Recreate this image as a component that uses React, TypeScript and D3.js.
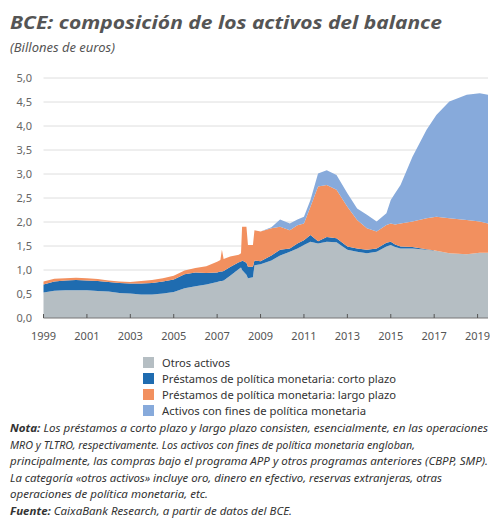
import React, { useMemo } from "react";
import * as d3 from "d3";

const WIDTH = 490;
const HEIGHT = 527;
const LEFT = 43.5;
const RIGHT = 488;
const TOP = 78;
const BOTTOM = 318;

// time position (decimal years, as placed on the chart's axis)
const dates = [
  1999.0, 1999.5, 2000.0, 2000.5, 2001.0, 2001.5, 2002.0, 2002.5, 2003.0, 2003.5,
  2004.0, 2004.5, 2005.0, 2005.5, 2006.0, 2006.5, 2007.0, 2007.15, 2007.22, 2007.3,
  2007.6, 2008.0, 2008.1, 2008.15, 2008.35, 2008.42, 2008.65, 2008.72, 2009.0, 2009.5,
  2009.9, 2010.35, 2010.7, 2011.0, 2011.3, 2011.65, 2012.05, 2012.5, 2013.0, 2013.45,
  2013.9, 2014.35, 2014.8, 2015.0, 2015.2, 2015.45, 2016.0, 2016.65, 2017.1, 2017.7,
  2018.5, 2019.1, 2019.48,
];

// billones de euros
const otrosActivos = [
  0.53, 0.57, 0.58, 0.58, 0.58, 0.56, 0.55, 0.52, 0.51, 0.49,
  0.49, 0.51, 0.54, 0.62, 0.66, 0.70, 0.75, 0.77, 0.77, 0.78,
  0.88, 1.02, 1.05, 1.0, 0.9, 0.83, 0.85, 1.1, 1.12, 1.2,
  1.3, 1.38, 1.45, 1.52, 1.59, 1.55, 1.59, 1.58, 1.42, 1.38,
  1.35, 1.38, 1.49, 1.52, 1.48, 1.45, 1.45, 1.42, 1.4, 1.35,
  1.33, 1.36, 1.36,
];
const cortoPlazo = [
  0.17, 0.19, 0.2, 0.21, 0.2, 0.21, 0.2, 0.21, 0.21, 0.23,
  0.24, 0.25, 0.26, 0.29, 0.29, 0.24, 0.2, 0.2, 0.2, 0.2,
  0.18, 0.14, 0.12, 0.2, 0.25, 0.24, 0.22, 0.1, 0.06, 0.1,
  0.12, 0.07, 0.1, 0.1, 0.14, 0.05, 0.1, 0.08, 0.07, 0.07,
  0.07, 0.07, 0.08, 0.07, 0.05, 0.04, 0.03, 0.01, 0.0, 0.0,
  0.0, 0.0, 0.0,
];
const largoPlazo = [
  0.06, 0.06, 0.05, 0.05, 0.05, 0.04, 0.03, 0.03, 0.03, 0.05,
  0.06, 0.07, 0.08, 0.08, 0.09, 0.14, 0.22, 0.24, 0.45, 0.25,
  0.22, 0.16, 0.18, 0.7, 0.75, 0.45, 0.45, 0.63, 0.62, 0.57,
  0.48, 0.38, 0.38, 0.35, 0.59, 1.14, 1.08, 1.01, 0.83, 0.59,
  0.45, 0.35, 0.37, 0.38, 0.42, 0.48, 0.53, 0.65, 0.71, 0.73,
  0.71, 0.65, 0.61,
];
const finesPolitica = [
  0, 0, 0, 0, 0, 0, 0, 0, 0, 0,
  0, 0, 0, 0, 0, 0, 0, 0, 0, 0,
  0, 0, 0, 0, 0, 0, 0, 0, 0, 0.02,
  0.15, 0.14, 0.12, 0.14, 0.14, 0.27, 0.31, 0.31, 0.28, 0.24,
  0.28, 0.21, 0.24, 0.49, 0.65, 0.8, 1.35, 1.84, 2.12, 2.43,
  2.61, 2.67, 2.68,
];

const seriesKeys = ["otros", "corto", "largo", "fines"];
const seriesLabels = [
  "Otros activos",
  "Préstamos de política monetaria: corto plazo",
  "Préstamos de política monetaria: largo plazo",
  "Activos con fines de política monetaria",
];
const legendWidths = [68, 234, 234, 204];
const seriesColors = ["#b5bec3", "#1f6cb0", "#f2905f", "#87aadb"];

const yTicks = [0, 0.5, 1, 1.5, 2, 2.5, 3, 3.5, 4, 4.5, 5];
const xTicks = [1999, 2001, 2003, 2005, 2007, 2009, 2011, 2013, 2015, 2017, 2019];

const noteLines = [
  { bold: "Nota:", text: " Los préstamos a corto plazo y largo plazo consisten, esencialmente, en las operaciones", w: 478 },
  { bold: "", text: "MRO y TLTRO, respectivamente. Los activos con fines de política monetaria engloban,", w: 405 },
  { bold: "", text: "principalmente, las compras bajo el programa APP y otros programas anteriores (CBPP, SMP).", w: 478 },
  { bold: "", text: "La categoría «otros activos» incluye oro, dinero en efectivo, reservas extranjeras, otras", w: 432 },
  { bold: "", text: "operaciones de política monetaria, etc.", w: 198 },
  { bold: "Fuente:", text: " CaixaBank Research, a partir de datos del BCE.", w: 282 },
];

const fmt = (v: number) => v.toFixed(1).replace(".", ",");

export default function App() {
  const rows = useMemo(
    () =>
      dates.map((d, i) => ({
        date: d,
        otros: otrosActivos[i],
        corto: cortoPlazo[i],
        largo: largoPlazo[i],
        fines: finesPolitica[i],
      })),
    []
  );

  const xScale = d3.scaleLinear().domain([1999, 2019.48]).range([LEFT, RIGHT]);
  const yScale = d3.scaleLinear().domain([0, 5]).range([BOTTOM, TOP]);

  const stacked = d3.stack<any>().keys(seriesKeys)(rows);
  const areaGen = d3
    .area<any>()
    .x((d) => xScale(d.data.date))
    .y0((d) => yScale(d[0]))
    .y1((d) => yScale(d[1]));

  const font = "'Noto Sans', 'Open Sans', sans-serif";

  return (
    <svg
      width={WIDTH}
      height={HEIGHT}
      style={{ position: "absolute", left: 0, top: 0, background: "#fff" }}
      fontFamily={font}
    >
      <text
        x={10}
        y={29}
        fontSize={18}
        fontWeight="bold"
        fontStyle="italic"
        fill="#555"
        textLength={432}
        lengthAdjust="spacingAndGlyphs"
      >
        BCE: composición de los activos del balance
      </text>
      <text x={10} y={52} fontSize={13} fontStyle="italic" fill="#555">
        (Billones de euros)
      </text>

      {yTicks.map((t) => (
        <g key={t}>
          {t > 0 && (
            <line
              x1={LEFT}
              x2={RIGHT}
              y1={yScale(t)}
              y2={yScale(t)}
              stroke="#dedede"
              strokeWidth={1}
            />
          )}
          <text
            x={32}
            y={yScale(t) + 4}
            textAnchor="end"
            fontSize={11}
            fill="#666"
          >
            {fmt(t)}
          </text>
        </g>
      ))}

      {stacked.map((s, i) => (
        <path key={s.key} d={areaGen(s) || ""} fill={seriesColors[i]} />
      ))}

      <line x1={LEFT} x2={RIGHT} y1={BOTTOM} y2={BOTTOM} stroke="#777" strokeWidth={1} />
      {xTicks.map((t) => (
        <g key={t}>
          <line
            x1={xScale(t)}
            x2={xScale(t)}
            y1={BOTTOM}
            y2={BOTTOM - 4}
            stroke="#555"
            strokeWidth={1}
          />
          <text x={xScale(t)} y={340} textAnchor="middle" fontSize={11} fill="#555">
            {t}
          </text>
        </g>
      ))}

      {seriesLabels.map((label, i) => (
        <g key={label} transform={`translate(143, ${357 + i * 16})`}>
          <rect width={11} height={11} fill={seriesColors[i]} />
          <text
            x={19}
            y={9.5}
            fontSize={11}
            fill="#333"
            textLength={legendWidths[i]}
            lengthAdjust="spacingAndGlyphs"
          >
            {label}
          </text>
        </g>
      ))}

      {noteLines.map((l, i) => (
        <text
          key={i}
          x={10}
          y={432 + i * 16.6}
          fontSize={10.5}
          fontStyle="italic"
          fill="#333"
          textLength={l.w}
          lengthAdjust="spacingAndGlyphs"
        >
          {l.bold && <tspan fontWeight="bold">{l.bold}</tspan>}
          {l.text}
        </text>
      ))}
    </svg>
  );
}
